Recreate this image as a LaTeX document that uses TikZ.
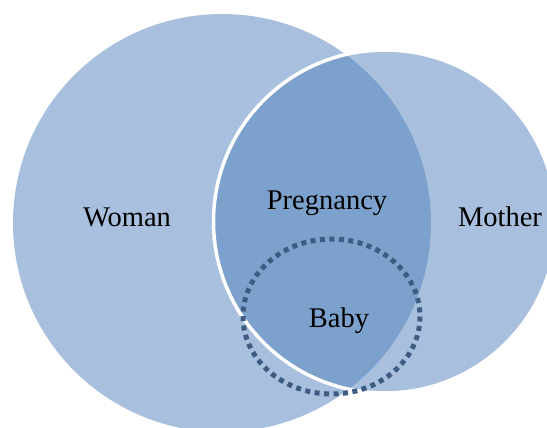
\documentclass[tikz,border=0pt]{standalone}
\usepackage{fontspec}
\setmainfont{Liberation Serif}
\usepackage{tikz}
\usetikzlibrary{positioning,calc}
\definecolor{bluei}{RGB}{168,192,222}
\definecolor{blueii}{RGB}{123,161,204}
\definecolor{blueiii}{RGB}{62,92,130}
\tikzset{
          venntext/.style={font=\fontsize{28.5}{34}\selectfont,anchor=base,text=black,inner sep=0pt},
          setline/.style={draw=white,line width=3.5pt},
          babyline/.style={draw=blueiii,line width=5pt,dash pattern=on 5pt off 4.5pt}
        }
\begin{document}
\begin{tikzpicture}[x=1pt,y=-1pt]
            \useasboundingbox (0,0) rectangle (547,428);
            \clip (0,0) rectangle (547,428);

            \coordinate (womanc) at (222,223);
            \coordinate (motherc) at (385,221.5);
            \coordinate (babyc) at (331.5,316.5);

            \fill[bluei] (womanc) circle[radius=209];
            \fill[bluei] (motherc) circle[radius=171.5];
            \begin{scope}
              \clip (womanc) circle[radius=209];
              \fill[blueii] (motherc) circle[radius=171.5];
            \end{scope}
            \draw[setline] (motherc) circle[radius=171.5];
            \draw[babyline] (babyc) ellipse[x radius=88.5,y radius=77.5];

            \node[venntext] (woman) at (127,226) {Woman};
            \node[venntext] (pregnancy) at (327,209) {Pregnancy};
            \node[venntext] (mother) at (500,226) {Mother};
            \node[venntext] (baby) at (339,327) {Baby};

          \end{tikzpicture}
\end{document}
